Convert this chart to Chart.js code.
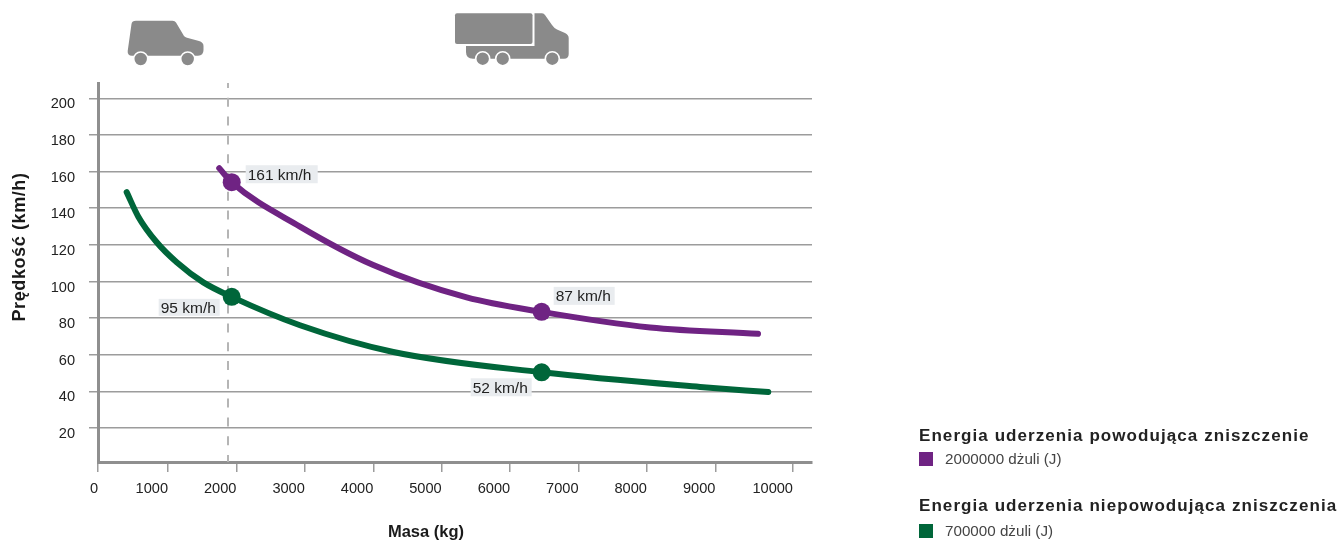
<!DOCTYPE html>
<html lang="pl">
<head>
<meta charset="utf-8">
<title>Energia uderzenia</title>
<script src="https://cdn.jsdelivr.net/npm/chart.js@4.4.0/dist/chart.umd.min.js"></script>
<style>
html,body{margin:0;padding:0;background:#fff;}
#wrap{position:relative;width:1339px;height:540px;overflow:hidden;font-family:"Liberation Sans",Arial,sans-serif;}
canvas{position:absolute;left:0;top:0;}
.lg{position:absolute;left:919px;white-space:nowrap;color:#222;}
.lg b{display:block;font-size:17px;line-height:18px;letter-spacing:1.07px;font-weight:bold;}
.lg span{display:block;font-size:15.2px;line-height:18px;color:#444;margin-top:5px;padding-left:26px;position:relative;}
.lg i{position:absolute;left:0;top:2px;width:14px;height:14px;}
</style>
</head>
<body>
<div id="wrap">
<canvas id="c" width="1339" height="540"></canvas>
<div class="lg" style="top:427px"><b>Energia uderzenia powodująca zniszczenie</b><span><i style="background:#6f2383"></i>2000000 dżuli (J)</span></div>
<div class="lg" style="top:497px"><b>Energia uderzenia niepowodująca zniszczenia</b><span style="margin-top:7px"><i style="background:#00663a"></i>700000 dżuli (J)</span></div>
</div>
<script>
// dane
const purpleMass = [1749,1931,2929,4000,5365,6461,8046,9623];
const purpleSpeed = [161.9,154.2,130,109,91.3,83.4,74.9,71.4];
const greenMass = [396,566,835,1127,1516,1931,2929,4293,6461,8777,9773];
const greenSpeed = [148.8,135.4,121.4,110.5,99.5,91.6,76.1,61.5,50.4,42.4,39.6];

const purpleMarkMass = [1931,6461];
const purpleMarkSpeed = [154.2,83.4];
const purpleMarkLabels = ['161 km/h','87 km/h'];
const greenMarkMass = [1931,6461];
const greenMarkSpeed = [91.6,50.4];
const greenMarkLabels = ['95 km/h','52 km/h'];

const xTicks = [-23,1000,2000,3000,4000,5000,6000,7000,8000,9000,10134];
const xTickLabels = ['0','1000','2000','3000','4000','5000','6000','7000','8000','9000','10000'];
const yTicks = [20,40,60,80,100,120,140,160,180,200];
const dividerMass = 1877;

const PURPLE = '#6f2383', GREEN = '#00663a', AXIS = '#8f8f8f', GRID = '#9c9c9c', ICON = '#8a8a8a';
const FONT = '"Liberation Sans", Arial, sans-serif';
const xMin = -23, xMax = 10412, yMin = 1.4, yMax = 208.4;

const pts = (xs, ys) => xs.map((x, i) => ({x, y: ys[i]}));

// przesuniecia etykiet wzgledem punktu: lewy gorny rog ramki i jej rozmiar
const labelBoxes = {
  '161 km/h': [14, -17, 72, 18],
  '87 km/h': [12, -25, 61, 18],
  '95 km/h': [-73, 2, 61, 17],
  '52 km/h': [-71, 6, 61, 18]
};

function car(ctx){
  const p = new Path2D('M136 20.7H172.5Q175 20.7 176 22.5L184 36Q185 37 187 37.7L199 41Q203.5 42.3 203.5 46V50Q203.5 55.7 198 55.7H132Q127.3 55.7 127.7 51L131.5 24Q132 20.7 136 20.7Z');
  ctx.fillStyle = ICON;
  ctx.fill(p);
  wheels(ctx, [140.7, 187.7], 59);
}

function truck(ctx){
  const cab = new Path2D('M466 45.5H534V13.3H542Q544 13.3 545 15L552 25Q554 28 557 29.5L565 33Q568.7 35 568.7 38V54Q568.7 58.7 564 58.7H473Q466 58.7 466 52Z');
  ctx.fillStyle = ICON;
  ctx.fill(cab);
  ctx.fillStyle = '#fff';
  ctx.fillRect(455, 13, 79.5, 33);
  ctx.fillStyle = ICON;
  ctx.beginPath();
  ctx.roundRect(455, 13.3, 77.5, 30.7, 2);
  ctx.fill();
  wheels(ctx, [482.7, 502.7, 552.3], 58.7);
}

function wheels(ctx, xs, y){
  xs.forEach(x => {
    ctx.beginPath();
    ctx.arc(x, y, 7, 0, Math.PI * 2);
    ctx.fillStyle = ICON;
    ctx.fill();
    ctx.strokeStyle = '#fff';
    ctx.lineWidth = 1.6;
    ctx.stroke();
  });
}

const extras = {
  id: 'extras',
  afterDraw(chart){
    const {ctx, scales: {x, y}} = chart;
    ctx.save();
    car(ctx);
    truck(ctx);

    const marks = [
      [purpleMarkMass, purpleMarkSpeed, purpleMarkLabels],
      [greenMarkMass, greenMarkSpeed, greenMarkLabels]
    ];
    ctx.font = '15.5px ' + FONT;
    ctx.textBaseline = 'middle';
    ctx.textAlign = 'left';
    marks.forEach(([xs, ys, labels]) => {
      labels.forEach((txt, i) => {
        const b = labelBoxes[txt];
        const px = x.getPixelForValue(xs[i]) + b[0];
        const py = y.getPixelForValue(ys[i]) + b[1];
        ctx.fillStyle = '#e9ecef';
        ctx.fillRect(px, py, b[2], b[3]);
        ctx.fillStyle = '#222';
        ctx.fillText(txt, px + 2, py + b[3] / 2 + 1);
      });
    });

    // tytuly osi
    ctx.fillStyle = '#1a1a1a';
    ctx.font = 'bold 16.5px ' + FONT;
    ctx.textAlign = 'center';
    ctx.fillText('Masa (kg)', 426, 532);
    ctx.translate(20, 247);
    ctx.rotate(-Math.PI / 2);
    ctx.font = 'bold 18px ' + FONT;
    ctx.letterSpacing = '0.6px';
    ctx.fillText('Prędkość (km/h)', 0, 0);
    ctx.restore();
  }
};

new Chart(document.getElementById('c').getContext('2d'), {
  type: 'scatter',
  data: {
    datasets: [
      {data: pts(purpleMarkMass, purpleMarkSpeed), pointRadius: 9, pointBackgroundColor: PURPLE, pointBorderWidth: 0, showLine: false, order: 1},
      {data: pts(greenMarkMass, greenMarkSpeed), pointRadius: 9, pointBackgroundColor: GREEN, pointBorderWidth: 0, showLine: false, order: 1},
      {data: pts(purpleMass, purpleSpeed), borderColor: PURPLE, borderWidth: 6, borderCapStyle: 'round', cubicInterpolationMode: 'monotone', pointRadius: 0, showLine: true, order: 2},
      {data: pts(greenMass, greenSpeed), borderColor: GREEN, borderWidth: 6, borderCapStyle: 'round', cubicInterpolationMode: 'monotone', pointRadius: 0, showLine: true, order: 2},
      {data: pts([dividerMass, dividerMass], [yMax, yMin]), borderColor: '#b5b5b5', borderWidth: 2, borderDash: [9, 9.8], borderDashOffset: 4, pointRadius: 0, showLine: true, order: 3}
    ]
  },
  options: {
    responsive: false,
    animation: false,
    layout: {padding: {left: 0, right: 527, top: 83, bottom: 0}},
    plugins: {legend: {display: false}, tooltip: {enabled: false}},
    scales: {
      x: {
        type: 'linear', min: xMin, max: xMax,
        afterFit: s => { s.height = 78; },
        afterBuildTicks: s => { s.ticks = xTicks.map(value => ({value})); },
        border: {color: AXIS, width: 3},
        grid: {drawOnChartArea: false, color: GRID, lineWidth: 1.5, tickLength: 10},
        ticks: {
          align: 'end', padding: 8, autoSkip: false, maxRotation: 0, color: '#222',
          font: {family: FONT, size: 14.6},
          callback: (v, i) => xTickLabels[i]
        }
      },
      y: {
        type: 'linear', min: yMin, max: yMax,
        afterFit: s => { s.width = 98; },
        afterBuildTicks: s => { s.ticks = yTicks.map(value => ({value})); },
        border: {color: AXIS, width: 3},
        grid: {color: GRID, lineWidth: 1.5, tickLength: 9},
        ticks: {
          padding: 14, labelOffset: 6, autoSkip: false, color: '#222',
          font: {family: FONT, size: 14.6},
          callback: v => String(v)
        }
      }
    }
  },
  plugins: [extras]
});
</script>
</body>
</html>
